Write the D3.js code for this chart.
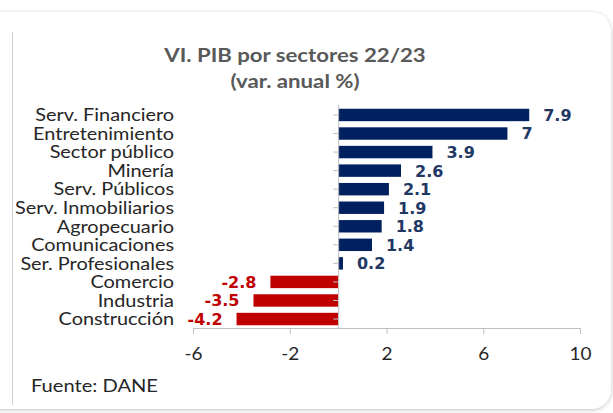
<!DOCTYPE html>
<html>
<head>
<meta charset="utf-8">
<script src="https://cdn.jsdelivr.net/npm/d3@7"></script>
<style>
  html, body { margin: 0; padding: 0; background: #ffffff; }
  svg { display: block; }
</style>
</head>
<body>
<svg id="chart" width="613" height="413"></svg>
<script>
// --------------------------------
// data
// --------------------------------
var sectores = ["Serv. Financiero", "Entretenimiento", "Sector público", "Minería",
  "Serv. Públicos", "Serv. Inmobiliarios", "Agropecuario", "Comunicaciones",
  "Ser. Profesionales", "Comercio", "Industria", "Construcción"];
var variacion = [7.9, 7, 3.9, 2.6, 2.1, 1.9, 1.8, 1.4, 0.2, -2.8, -3.5, -4.2];
var ticksX = [-6, -2, 2, 6, 10];

// the original text is a bit wider than Lato, so stretch it a little
var FONT = "Lato, 'Open Sans', sans-serif";
var FONT_VAL = "'DejaVu Sans', Verdana, sans-serif";
var SX = 1.15;

var svg = d3.select("#chart");

// card with soft shadow
var defs = svg.append("defs");
var f = defs.append("filter").attr("id", "sh").attr("x", "-5%").attr("y", "-5%").attr("width", "110%").attr("height", "110%");
f.append("feDropShadow").attr("dx", 0).attr("dy", 1).attr("stdDeviation", 2)
  .attr("flood-color", "#000").attr("flood-opacity", 0.25);

svg.append("rect")
  .attr("x", -20).attr("y", 12).attr("width", 631).attr("height", 397)
  .attr("rx", 20)
  .attr("fill", "#ffffff")
  .attr("filter", "url(#sh)");

svg.append("line")
  .attr("x1", 12.5).attr("x2", 12.5).attr("y1", 32).attr("y2", 405)
  .attr("stroke", "#d0d0d0").attr("stroke-width", 1);

// title
svg.append("text")
  .attr("transform", "translate(295,62) scale(1.2,1)")
  .attr("text-anchor", "middle")
  .attr("style", "font-family:" + FONT + ";font-size:18.5px;font-weight:bold;fill:#595959")
  .text("VI. PIB por sectores 22/23");
svg.append("text")
  .attr("transform", "translate(295,88) scale(1.2,1)")
  .attr("text-anchor", "middle")
  .attr("style", "font-family:" + FONT + ";font-size:18.5px;font-weight:bold;fill:#595959")
  .text("(var. anual %)");

// scales
var x = d3.scaleLinear().domain([-6, 10]).range([193, 580]);
var y = d3.scaleBand().domain(sectores).range([105.7, 328.3]).paddingInner(0.33).paddingOuter(0.165);

// bars
svg.append("g").selectAll("rect")
  .data(variacion)
  .join("rect")
  .attr("x", function(d){ return x(Math.min(0, d)); })
  .attr("y", function(d, i){ return y(sectores[i]); })
  .attr("width", function(d){ return Math.abs(x(d) - x(0)); })
  .attr("height", y.bandwidth())
  .attr("fill", function(d){ return d >= 0 ? "#002060" : "#c00000"; });

// category axis on zero line
var yAxis = svg.append("g")
  .attr("transform", "translate(" + x(0) + ",0)")
  .call(d3.axisLeft(y).tickSize(5).tickFormat(""));
yAxis.select(".domain").attr("stroke", "#bfbfbf").attr("d", "M0.5," + 105 + "V" + 328.5);
yAxis.selectAll(".tick line").attr("stroke", "#bfbfbf");

// category labels
svg.append("g").selectAll("text")
  .data(sectores)
  .join("text")
  .attr("transform", function(d){ return "translate(174," + (y(d) + y.bandwidth() / 2) + ") scale(" + SX + ",1)"; })
  .attr("dy", "0.36em")
  .attr("text-anchor", "end")
  .attr("style", "font-family:" + FONT + ";font-size:17.3px;fill:#262626")
  .text(function(d){ return d; });

// value axis
var xAxis = svg.append("g")
  .attr("transform", "translate(0,328)")
  .call(d3.axisBottom(x).tickValues(ticksX).tickSize(6).tickSizeOuter(0).tickFormat(function(d){ return String(d); }));
xAxis.select(".domain").attr("stroke", "#bfbfbf");
xAxis.selectAll(".tick line").attr("stroke", "#bfbfbf");
xAxis.selectAll(".tick text")
  .attr("y", 20)
  .attr("transform", "scale(" + SX + ",1)")
  .attr("style", "font-family:" + FONT + ";font-size:16.5px;fill:#262626");

// value labels
svg.append("g").selectAll("text")
  .data(variacion)
  .join("text")
  .attr("x", function(d){ return d >= 0 ? x(d) + 14 : x(d) - 14; })
  .attr("y", function(d, i){ return y(sectores[i]) + y.bandwidth() / 2; })
  .attr("dy", "0.37em")
  .attr("text-anchor", function(d){ return d >= 0 ? "start" : "end"; })
  .attr("style", function(d){
    return "font-family:" + FONT_VAL + ";font-size:16px;font-weight:bold;fill:" + (d >= 0 ? "#1f3864" : "#c00000");
  })
  .text(function(d){ return String(d); });

// source
svg.append("text")
  .attr("transform", "translate(31,392) scale(" + SX + ",1)")
  .attr("style", "font-family:" + FONT + ";font-size:17.5px;fill:#262626")
  .text("Fuente: DANE");
</script>
</body>
</html>
